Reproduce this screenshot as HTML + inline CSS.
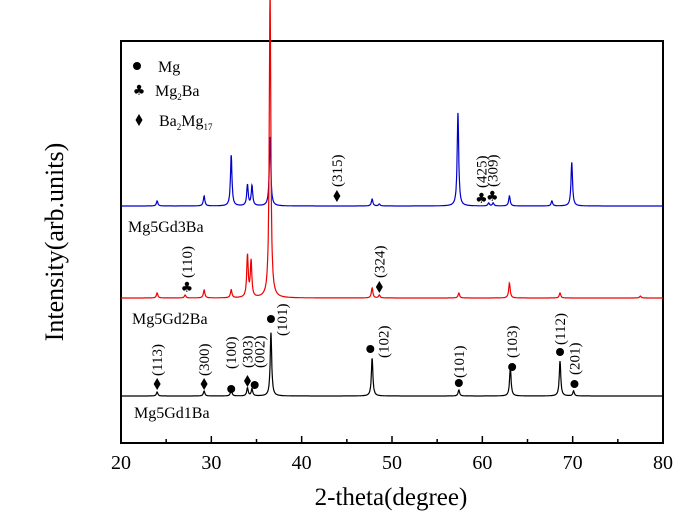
<!DOCTYPE html>
<html><head><meta charset="utf-8"><style>
html,body{margin:0;padding:0;background:#fff;}
svg{display:block;font-family:"Liberation Serif",serif;}
</style></head><body>
<svg id="chart" width="694" height="529" viewBox="0 0 694 529" xmlns="http://www.w3.org/2000/svg"></svg>
<script>
// ---- data ----
const xTicks = [20, 30, 40, 50, 60, 70, 80];
const blackPos = [24.0, 29.2, 32.2, 34.0, 34.5, 36.6, 47.8, 57.4, 63.1, 68.6, 70.1];
const blackH   = [4, 5, 6, 8, 7, 64, 38, 6, 29, 35, 5];
const redPos = [24.0, 27.1, 29.2, 32.2, 34.0, 34.4, 36.5, 47.8, 48.6, 57.4, 63.0, 68.6, 77.5];
const redH   = [5, 3, 8, 8, 42, 36, 310, 10, 3, 5, 15, 5, 2];
const bluePos = [24.0, 29.2, 32.2, 34.0, 34.5, 36.5, 47.8, 48.6, 57.3, 60.7, 61.2, 63.0, 67.7, 69.9];
const blueH   = [5, 10, 51, 21, 20, 69, 7, 2, 94, 3, 3, 10, 5, 44];
const baselines = [396, 298, 206];
const markers = [
 ['diamond',24.0,384,'(113)',376],['diamond',29.2,384,'(300)',376],['circle',32.2,389,'(100)',369],
 ['diamond',34.0,381,'(303)',368],['circle',34.8,385,'(002)',368],['circle',36.6,319,'(101)',336],
 ['circle',47.6,349,'(102)',358],['circle',57.4,383,'(101)',378],['circle',63.3,367,'(103)',358],
 ['circle',68.6,352,'(112)',345],['circle',70.2,384,'(201)',375],
 ['diamond',43.9,196,'(315)',187],['club',59.9,198,'(425)',188],['club',61.1,196,'(309)',187],
 ['club',27.3,287,'(110)',278],['diamond',48.6,287,'(324)',278]
];
// ---- layout ----
const L=121,R=663,T=41,B=443,NS='http://www.w3.org/2000/svg';
const svg=document.getElementById('chart');
const xs=d=>L+(d-20)*(R-L)/60;
function mk(tag,attrs,parent){const e=document.createElementNS(NS,tag);for(const k in attrs)e.setAttribute(k,attrs[k]);(parent||svg).appendChild(e);return e;}
const fr=mk('rect',{x:L,y:T,width:R-L,height:B-T,fill:'none',stroke:'#000','stroke-width':2});


xTicks.forEach((t,i)=>{
  const ln=mk('line',{x1:xs(t),x2:xs(t),y1:B,y2:B-7,stroke:'#000','stroke-width':1.5});
  
  
  if(i<xTicks.length-1){const m=mk('line',{x1:xs(t+5),x2:xs(t+5),y1:B,y2:B-4,stroke:'#000','stroke-width':1.5});
    
    }
  const tx=mk('text',{x:xs(t),y:469,'text-anchor':'middle','font-size':20});
  tx.textContent=t;
  
  
});
const xt=mk('text',{x:391,y:505,'text-anchor':'middle','font-size':25});xt.textContent='2-theta(degree)';


const yt=mk('text',{x:0,y:0,'text-anchor':'middle','font-size':26,transform:'translate(63,242) rotate(-90)'});yt.textContent='Intensity(arb.units)';


function series(pos,h,base,color,name){
  let d='';
  for(let t=20.0;t<=80.001;t+=0.03){
    let y=0;for(let i=0;i<pos.length;i++){const g=0.1;y+=h[i]*g*g/((t-pos[i])*(t-pos[i])+g*g);}
    d+=(d?'L':'M')+xs(t).toFixed(1)+','+(base-y).toFixed(1);
  }
  const p=mk('path',{d:d,fill:'none',stroke:color,'stroke-width':1.2});
  
  
}
series(blackPos,blackH,baselines[0],'#000','series-mg5gd1ba');
series(bluePos,blueH,baselines[2],'#00c','series-mg5gd3ba');
series(redPos,redH,baselines[1],'#e00','series-mg5gd2ba');
function sym(type,x,y,name){
  let e;
  if(type==='circle'){e=mk('circle',{cx:x,cy:y,r:4,fill:'#000'});}
  else if(type==='diamond'){e=mk('path',{d:`M${x},${y-6}L${x+3.5},${y}L${x},${y+6}L${x-3.5},${y}Z`,fill:'#000'});}
  else {e=mk('text',{x:x,y:y+5,'text-anchor':'middle','font-size':14,'font-family':'DejaVu Sans'});e.textContent='♣';}
  
  
}
markers.forEach(m=>{
  const x=xs(m[1]);
  sym(m[0],x,m[2],'phase-marker');
  const lx = (m[3]==='(101)'&&m[2]<330)? x+11 : (m[3]==='(102)'? x+13 : (m[3]==='(002)'? x+5 : x));
  const t=mk('text',{x:0,y:0,'font-size':15,transform:`translate(${lx+5},${m[4]}) rotate(-90)`});
  t.textContent=m[3];
  
  
});
[['Mg5Gd3Ba',128,232],['Mg5Gd2Ba',132,324],['Mg5Gd1Ba',134,418]].forEach(s=>{
  const t=mk('text',{x:s[1],y:s[2],'font-size':16});t.textContent=s[0];
  
  
});
sym('circle',137,66,'legend-mg-symbol');
sym('club',139,90,'legend-mg2ba-symbol');
sym('diamond',139,120,'legend-ba2mg17-symbol');
const l1=mk('text',{x:158,y:72,'font-size':16});l1.textContent='Mg';


const l2=mk('text',{x:155,y:96,'font-size':16});l2.innerHTML='Mg<tspan font-size="9" dy="4">2</tspan><tspan dy="-4">Ba</tspan>';


const l3=mk('text',{x:159,y:126,'font-size':16});l3.innerHTML='Ba<tspan font-size="9" dy="4">2</tspan><tspan dy="-4">Mg</tspan><tspan font-size="9" dy="4">17</tspan>';


</script>
</body></html>
